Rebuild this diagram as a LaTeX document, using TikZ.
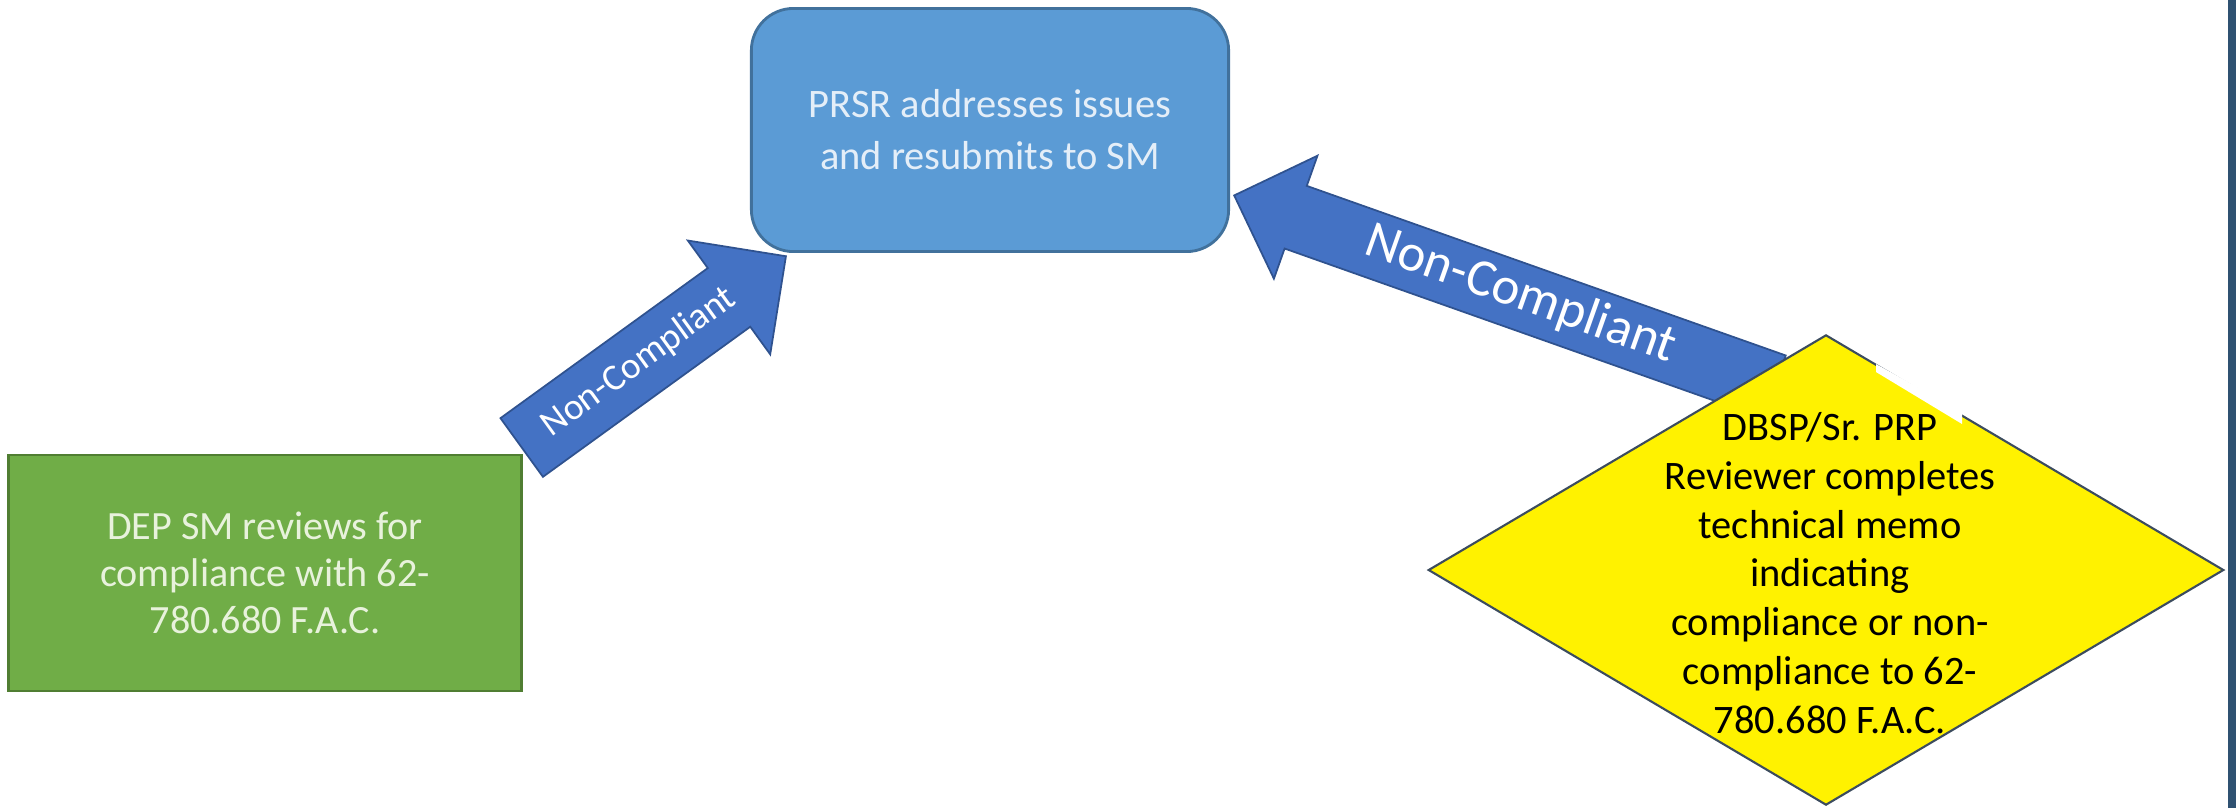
\documentclass[tikz,border=0pt]{standalone}
\usepackage{fontspec}
\setmainfont{Carlito}
\usetikzlibrary{shapes.geometric,shapes.arrows}

\definecolor{boxblue}{HTML}{5B9BD5}
\definecolor{boxblueline}{HTML}{41719C}
\definecolor{boxgreen}{HTML}{70AD47}
\definecolor{boxgreenline}{HTML}{507E32}
\definecolor{arrowblue}{HTML}{4472C4}
\definecolor{arrowline}{HTML}{2F528F}
\definecolor{diamondline}{HTML}{3C4C5E}
\definecolor{greentext}{HTML}{E8F2DC}
\definecolor{bluetext}{HTML}{E4EEF8}
\definecolor{stripblue}{HTML}{2F5171}

\tikzstyle{process}=[draw,line width=0.8pt,align=center,inner sep=0pt]
\tikzstyle{decision}=[diamond,draw=diamondline,line width=0.6pt,fill=yellow,inner sep=0pt]
\tikzstyle{flowarrow}=[single arrow,draw=arrowline,line width=0.5pt,fill=arrowblue,text=white,inner xsep=0pt]
\newcommand{\pxunit}{0.01cm}

\begin{document}
\begin{tikzpicture}[x=\pxunit, y=-\pxunit]
    \useasboundingbox (0,0) rectangle (2236,808);
    % First we draw the two Non-Compliant arrows
    \node[flowarrow, rotate=35.9, anchor=tail, minimum height=3.26cm,
          single arrow head extend=0.34cm, inner ysep=5.3pt,
          text height=7.5pt, text depth=2pt,
          font=\fontsize{10.6}{12}\selectfont] (nc1) at (521,448) {Non-Compliant};
    \node[flowarrow, rotate=-19.5, shape border rotate=180, anchor=tip,
          minimum height=5.73cm, single arrow head extend=0.32cm, inner ysep=2.7pt,
          text height=10pt, text depth=3pt,
          font=\fontsize{15}{17}\selectfont] (nc2) at (1233,195) {Non-Compliant};
    \draw[arrowline, line width=0.9pt] (521,533) -- (521,600);
    % Then the boxes
    \node[process, fill=boxgreen, draw=boxgreenline, minimum width=5.12cm, minimum height=2.36cm,
          text=greentext, font=\fontsize{11.4}{13.4}\selectfont]
          (dep) at (265,573) {DEP SM reviews for\\compliance with 62-\\780.680 F.A.C.};
    \node[process, fill=boxblue, draw=boxblueline, rounded corners=0.42cm,
          minimum width=4.77cm, minimum height=2.43cm,
          text=bluetext, font=\fontsize{11.5}{14.8}\selectfont]
          (prsr) at (990,130) {PRSR addresses issues\\and resubmits to SM};
    % The decision diamond and its text
    \node[decision, minimum width=7.95cm, minimum height=4.7cm] (dbsp) at (1826,570) {};
    \node[align=center, inner sep=0pt, font=\fontsize{11.5}{13.9}\selectfont]
          (dbsptext) at ([xshift=0.04cm,yshift=-0.03cm]dbsp.center)
          {DBSP/Sr. PRP\\Reviewer completes\\technical memo\\indicating\\compliance or non-\\compliance to 62-\\780.680 F.A.C.};
    \fill[white] (1876,364) -- (1962,412) -- (1962,424) -- (1876,372) -- cycle;
    % Dark strip on the right edge
    \fill[stripblue] (2228,0) rectangle (2236,808);
\end{tikzpicture}
\end{document}
